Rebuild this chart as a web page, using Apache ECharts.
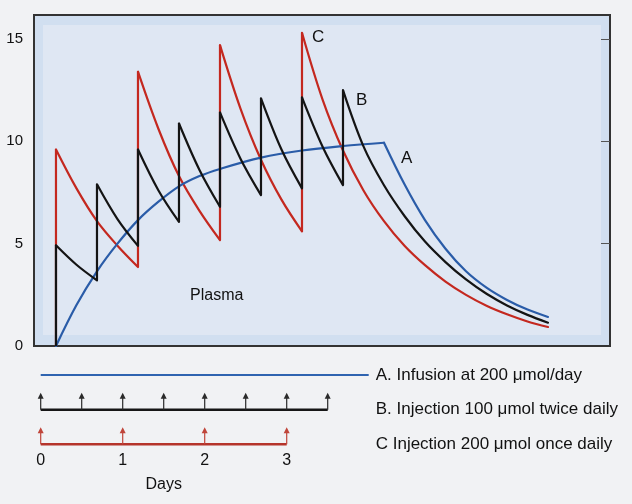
<!DOCTYPE html>
<html>
<head>
<meta charset="utf-8">
<script src="https://cdn.jsdelivr.net/npm/echarts@6/dist/echarts.min.js"></script>
<style>
html,body{margin:0;padding:0;background:#f1f2f4;}
#chart{width:632px;height:504px;}
</style>
</head>
<body>
<div id="chart"></div>
<script>
// ---- Data ----
// Plasma level, curve A: continuous infusion (days, level)
const infusionDays  = [0, 0.25, 0.5, 0.75, 1, 1.25, 1.5, 1.75, 2, 2.5, 3, 3.5, 4, 4.25, 4.5, 4.75, 5, 5.25, 5.5, 5.75, 6];
const infusionLevel = [0, 2.0, 3.65, 5.0, 6.15, 7.05, 7.8, 8.3, 8.65, 9.2, 9.55, 9.77, 9.93, 7.9, 6.15, 4.75, 3.65, 2.85, 2.25, 1.78, 1.42];

// Curve B: injection twice daily
const twiceDays  = [0, 0, 0.25, 0.5, 0.5, 0.75, 1, 1, 1.25, 1.5, 1.5, 1.75, 2, 2, 2.25, 2.5, 2.5, 2.75, 3, 3, 3.25, 3.5, 3.5, 3.75, 4, 4.25, 4.5, 4.75, 5, 5.25, 5.5, 5.75, 6];
const twiceLevel = [0, 4.92, 3.97, 3.21, 7.9, 6.2, 4.89, 9.6, 7.6, 6.06, 10.87, 8.6, 6.8, 11.41, 9.15, 7.37, 12.1, 9.6, 7.7, 12.15, 9.75, 7.86, 12.5, 9.75, 7.85, 6.35, 5.1, 4.1, 3.25, 2.55, 1.98, 1.52, 1.14];

// Curve C: injection once daily
const onceDays  = [0, 0, 0.25, 0.5, 0.75, 1, 1, 1.25, 1.5, 1.75, 2, 2, 2.25, 2.5, 2.75, 3, 3, 3.25, 3.5, 3.75, 4, 4.25, 4.5, 4.75, 5, 5.25, 5.5, 5.75, 6];
const onceLevel = [0, 9.6, 7.7, 6.1, 4.9, 3.86, 13.4, 10.6, 8.3, 6.6, 5.17, 14.7, 11.6, 9.1, 7.15, 5.6, 15.3, 12.05, 9.55, 7.6, 6.1, 4.9, 3.95, 3.15, 2.5, 1.97, 1.55, 1.2, 0.93];

// Dosing schedule (days)
const infusionSpan = [0, 4];
const twiceDoses   = [0, 0.5, 1, 1.5, 2, 2.5, 3, 3.5];
const onceDoses    = [0, 1, 2, 3];

// Tick labels
const yTicks      = [0, 5, 10, 15];
const yTicksRight = [5, 10, 15];
const dayTicks    = [0, 1, 2, 3];
const scheduleLabels = ['A. Infusion at 200 \u03bcmol/day', 'B. Injection 100 \u03bcmol twice daily', 'C Injection 200 \u03bcmol once daily'];

// ---- Build ----
const FONT = '"Liberation Sans", Arial, Helvetica, sans-serif';
const RED = '#c4281f', BLUE = '#2a5ca8', BLACK = '#141414';
const LW = 2.2;

// split a curve into smooth decay/rise runs and straight vertical jumps
function split(days, levels, cornerDays) {
  const runs = [], jumps = [];
  let cur = [[days[0], levels[0]]];
  for (let i = 1; i < days.length; i++) {
    const p = [days[i], levels[i]];
    if (days[i] === days[i - 1]) {
      if (cur.length > 1) runs.push(cur);
      jumps.push([[days[i - 1], levels[i - 1]], p]);
      cur = [p];
    } else {
      cur.push(p);
      if (cornerDays.indexOf(days[i]) >= 0) { runs.push(cur); cur = [p]; }
    }
  }
  if (cur.length > 1) runs.push(cur);
  return { runs, jumps };
}

function curveSeries(days, levels, color, z, cornerDays) {
  const s = split(days, levels, cornerDays || []);
  const out = [];
  s.runs.forEach(r => out.push({ type: 'line', xAxisIndex: 0, yAxisIndex: 0, data: r, showSymbol: false, smooth: 0.35, z: z,
    lineStyle: { color: color, width: LW, cap: 'round', join: 'round' } }));
  s.jumps.forEach(r => out.push({ type: 'line', xAxisIndex: 0, yAxisIndex: 0, data: r, showSymbol: false, z: z,
    lineStyle: { color: color, width: LW, join: 'miter' } }));
  return out;
}

function arrowSeries(doses, row, color) {
  return {
    type: 'custom', xAxisIndex: 1, yAxisIndex: 2, z: 5,
    data: doses.map(d => [d, row]),
    renderItem: function (params, api) {
      const p = api.coord([api.value(0), api.value(1)]);
      const len = 17, hw = 3, hh = 6;
      return { type: 'group', children: [
        { type: 'line', shape: { x1: p[0], y1: p[1], x2: p[0], y2: p[1] - len + 2 }, style: { stroke: color, lineWidth: 1.2 } },
        { type: 'polygon', shape: { points: [[p[0] - hw, p[1] - len + hh], [p[0] + hw, p[1] - len + hh], [p[0], p[1] - len]] }, style: { fill: color } }
      ]};
    }
  };
}

const series = []
  .concat(curveSeries(onceDays, onceLevel, RED, 3))
  .concat(curveSeries(infusionDays, infusionLevel, BLUE, 4, [infusionSpan[1]]))
  .concat(curveSeries(twiceDays, twiceLevel, BLACK, 5))
  .concat([
    { type: 'line', xAxisIndex: 1, yAxisIndex: 2, data: infusionSpan.map(d => [d, 0]), showSymbol: false,
      lineStyle: { color: '#2f64b0', width: 2 } },
    { type: 'line', xAxisIndex: 1, yAxisIndex: 2, data: [twiceDoses[0], twiceDoses[twiceDoses.length - 1]].map(d => [d, 1]), showSymbol: false,
      lineStyle: { color: '#161616', width: 2.5 } },
    { type: 'line', xAxisIndex: 1, yAxisIndex: 2, data: [onceDoses[0], onceDoses[onceDoses.length - 1]].map(d => [d, 2]), showSymbol: false,
      lineStyle: { color: '#b5342b', width: 2.5 } },
    arrowSeries(twiceDoses, 1, '#2a2a2a'),
    arrowSeries(onceDoses, 2, '#c0453a')
  ]);

const chart = echarts.init(document.getElementById('chart'), null, { renderer: 'canvas' });
chart.setOption({
  backgroundColor: '#f1f2f4',
  animation: false,
  textStyle: { fontFamily: FONT },
  grid: [
    { left: 34, top: 15, width: 576, height: 331, show: true, backgroundColor: '#d1dff0', borderColor: '#333', borderWidth: 2 },
    { left: 40.7, top: 357.6, width: 328, height: 104.1 },
    { left: 40.7, top: 440, width: 246, height: 10 }
  ],
  xAxis: [
    { type: 'value', gridIndex: 0, min: -0.268, max: 6.756, show: false },
    { type: 'value', gridIndex: 1, min: 0, max: 4, show: false },
    { type: 'value', gridIndex: 2, min: 0, max: 3, interval: 1,
      axisLine: { show: false }, axisTick: { show: false }, splitLine: { show: false },
      axisLabel: { color: '#111', fontSize: 16, margin: 3, customValues: dayTicks },
      name: 'Days', nameLocation: 'middle', nameGap: 27, nameTextStyle: { color: '#111', fontSize: 16 } }
  ],
  yAxis: [
    { type: 'value', gridIndex: 0, min: 0, max: 16.17, interval: 5,
      axisLine: { show: false }, splitLine: { show: false },
      axisTick: { show: true, length: 6, lineStyle: { color: '#333', width: 1 }, customValues: yTicks },
      axisLabel: { color: '#111', fontSize: 15, margin: 11, customValues: yTicks } },
    { type: 'value', gridIndex: 0, min: 0, max: 16.17, position: 'right',
      axisLine: { show: false }, splitLine: { show: false }, axisLabel: { show: false },
      axisTick: { show: true, inside: true, length: 9, lineStyle: { color: '#555', width: 1 }, customValues: yTicksRight } },
    { type: 'category', gridIndex: 1, data: scheduleLabels, inverse: true, position: 'right',
      axisLine: { show: false }, axisTick: { show: false }, splitLine: { show: false },
      axisLabel: { color: '#111', fontSize: 17, margin: 7, align: 'left' } },
    { type: 'value', gridIndex: 2, show: false }
  ],
  graphic: [
    { type: 'rect', z: 1, shape: { x: 43, y: 25, width: 558, height: 310 }, style: { fill: '#dfe7f3' } },
    { type: 'text', z: 10, left: 190, top: 288, style: { text: 'Plasma', font: '16px ' + FONT, fill: '#111' } },
    { type: 'text', z: 10, left: 312, top: 29, style: { text: 'C', font: '17px ' + FONT, fill: '#111' } },
    { type: 'text', z: 10, left: 356, top: 92, style: { text: 'B', font: '17px ' + FONT, fill: '#111' } },
    { type: 'text', z: 10, left: 401, top: 150, style: { text: 'A', font: '17px ' + FONT, fill: '#111' } }
  ],
  series: series
});
</script>
</body>
</html>
